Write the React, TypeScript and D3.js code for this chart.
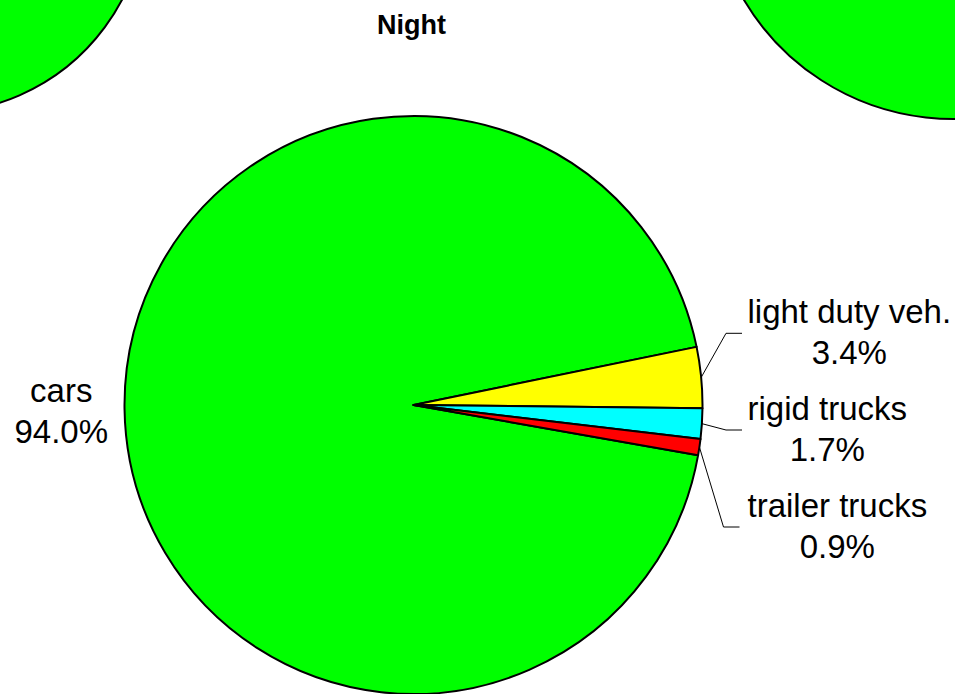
import React, { useEffect, useRef } from 'react'
import * as d3 from 'd3'

// vehicle classes, share of traffic at night (%)
const categories = ['cars', 'light duty veh.', 'rigid trucks', 'trailer trucks']
const nightShares = [94.0, 3.4, 1.7, 0.9]
const sliceColors = ['#00ff00', '#ffff00', '#00ffff', '#ff0000']
const chartTitle = 'Night'

const App = () => {
  const svgRef = useRef<SVGSVGElement>(null)

  useEffect(() => {
    const width = 955
    const height = 694
    const font = '"Liberation Sans", Arial, sans-serif'

    const svg = d3.select(svgRef.current)
      .attr('width', width)
      .attr('height', height)
      .style('font-family', font)
    svg.selectAll('*').remove()

    const data = categories.map((name, i) => ({ name, value: nightShares[i], color: sliceColors[i] }))
    const start = (100 * Math.PI) / 180
    const pie = d3.pie<any>().sort(null).value((d: any) => d.value)
      .startAngle(start).endAngle(start + 2 * Math.PI)
    const slices = pie(data)

    const drawPie = (cx: number, cy: number, r: number) => {
      const arc = d3.arc<any>().innerRadius(0).outerRadius(r)
      svg.append('g')
        .attr('transform', `translate(${cx},${cy})`)
        .selectAll('path')
        .data(slices)
        .join('path')
        .attr('d', arc)
        .attr('fill', (d: any) => d.data.color)
        .attr('stroke', '#000')
        .attr('stroke-width', 2)
        .attr('stroke-linejoin', 'round')
    }

    // neighbouring panels of the figure, only their edges show
    drawPie(-65, -98, 211)
    drawPie(953, -124, 243)

    // main pie
    const cx = 413.5
    const cy = 405
    const r = 289
    drawPie(cx, cy, r)

    svg.append('text')
      .attr('x', cx - 2)
      .attr('y', 34)
      .attr('text-anchor', 'middle')
      .style('font-size', '27px')
      .style('font-weight', 'bold')
      .text(chartTitle)

    const fmt = d3.format('.1f')
    const addLabel = (d: any, midY: number) => {
      const g = svg.append('g')
      const t = g.append('text')
        .attr('text-anchor', 'middle')
        .style('font-size', '33px')
        .attr('fill', '#000')
      t.append('tspan').attr('x', 0).attr('y', midY - 10).text(d.data.name)
      t.append('tspan').attr('x', 0).attr('y', midY + 30.5).text(fmt(d.data.value) + '%')
      const w = (t.node() as SVGTextElement).getBBox().width
      return { g, w }
    }

    // big slice: label left of the pie, no leader
    const cars = slices[0]
    const carsMid = (cars.startAngle + cars.endAngle) / 2
    const carsLab = addLabel(cars, cy - r * Math.cos(carsMid) + 3)
    carsLab.g.attr('transform', `translate(${cx - r - 16.5 - carsLab.w / 2},0)`)

    // small slices: stacked labels to the right with elbow leaders
    const labelMidY = [333.3, 430, 527]
    const elbowX = [726, 726, 723.5]
    slices.slice(1).forEach((d: any, i: number) => {
      const a = (d.startAngle + d.endAngle) / 2
      const px = cx + r * Math.sin(a)
      const py = cy - r * Math.cos(a)
      const y = labelMidY[i]
      svg.append('polyline')
        .attr('points', `${px},${py} ${elbowX[i]},${y} ${elbowX[i] + 16},${y}`)
        .attr('fill', 'none')
        .attr('stroke', '#000')
        .attr('stroke-width', 1)
      const lab = addLabel(d, y)
      lab.g.attr('transform', `translate(${747.5 + lab.w / 2},0)`)
    })
  }, [])

  return (
    <svg
      ref={svgRef}
      style={{ position: 'absolute', left: 0, top: 0, display: 'block', background: '#fff' }}
    />
  )
}

export default App
